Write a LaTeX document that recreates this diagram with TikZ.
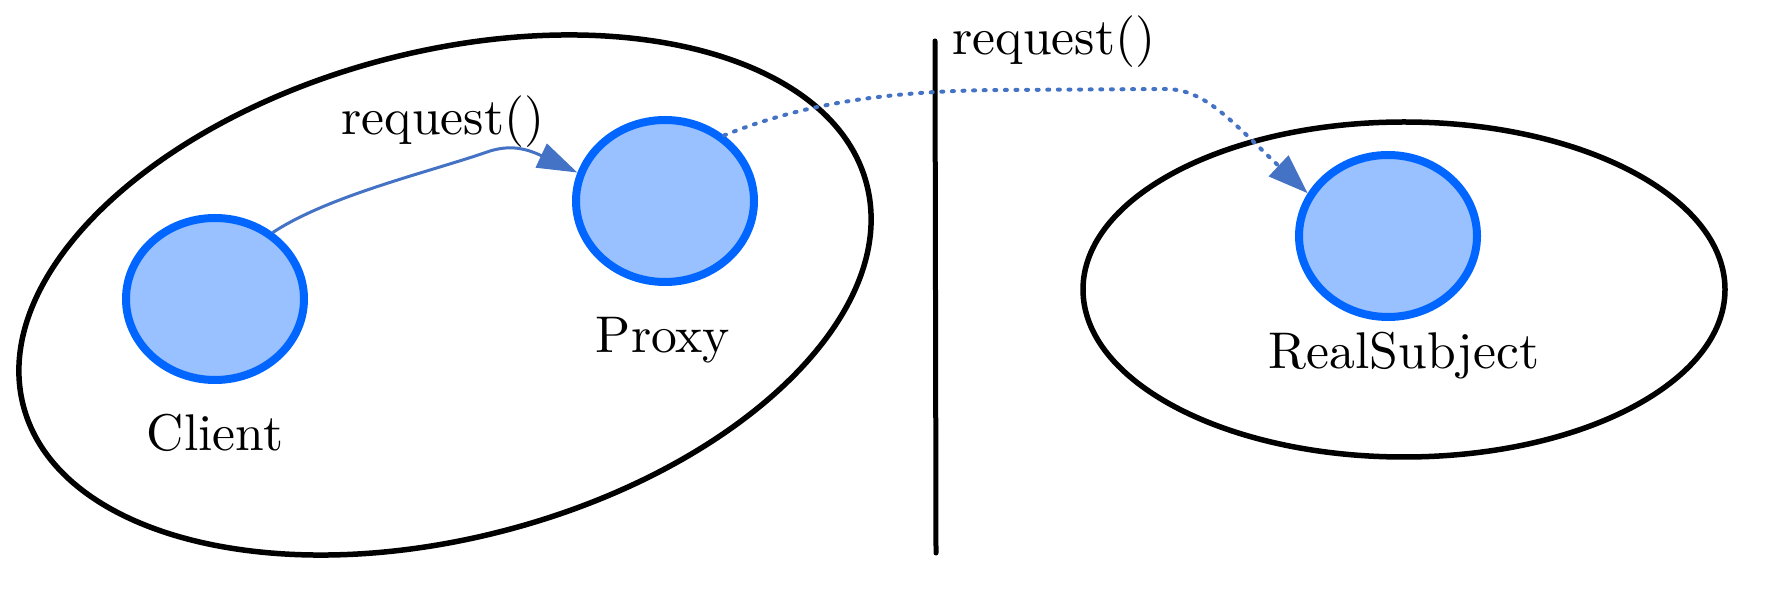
\documentclass[tikz,border=0pt]{standalone}
\usetikzlibrary{arrows.meta,shapes.geometric}
\definecolor{nodeborder}{HTML}{0066FF}
\definecolor{nodefill}{HTML}{99C0FF}
\definecolor{arrowblue}{HTML}{4472C4}
\font\lblfont="[lmroman10-regular.otf]" at 25.8pt
\tikzset{
  obj/.style={ellipse, draw=nodeborder, fill=nodefill, line width=4pt,
    minimum width=89pt, minimum height=81pt, inner sep=0pt},
  group/.style={draw=black, line width=2.75pt},
  lbl/.style={font=\lblfont, anchor=base, inner sep=0pt},
  msg/.style={draw=arrowblue, line width=1.5pt,
    -{Triangle[length=20pt,width=13pt,fill=arrowblue]}},
  remote/.style={draw=arrowblue, line width=2pt, line cap=round,
    dash pattern=on 1pt off 4.3pt,
    -{Triangle[length=20pt,width=14pt,fill=arrowblue]}}
}
\begin{document}
\begin{tikzpicture}[x=0.5pt,y=-0.5pt]
\useasboundingbox (0,0) rectangle (1787,592);
% containers
\draw[group, rotate around={14.8:(445,295)}] (445,295) ellipse [x radius=218pt, y radius=121.5pt];
\draw[group] (1404,289.5) ellipse [x radius=160.5pt, y radius=83.75pt];
% separator
\coordinate (septop) at (935,41);
\coordinate (sepbot) at (936,553);
\draw[line width=2.5pt, line cap=round] (septop) -- (sepbot);
% objects
\node[obj] (client) at (215,299) {};
\node[obj] (proxy) at (665,201) {};
\node[obj] (rs) at (1388,236) {};
% labels
\node[lbl] (lclient) at (215,451) {Client};
\node[lbl] (lproxy) at (663,353) {Proxy};
\node[lbl] (lrs) at (1404,369) {RealSubject};
\node[lbl] (req1) at (443,135) {request()};
\node[lbl] (req2) at (1054,55) {request()};
% connectors
\draw[msg] (client.49) .. controls (330,195) and (430,172) .. (490,151)
  .. controls (510,145) and (525,148) .. (proxy.162);
\draw[remote] (proxy.48) .. controls (800,105) and (880,91) .. (1000,90)
  -- (1165,89) .. controls (1205,89) and (1230,120) .. (rs.152);
\end{tikzpicture}
\end{document}
